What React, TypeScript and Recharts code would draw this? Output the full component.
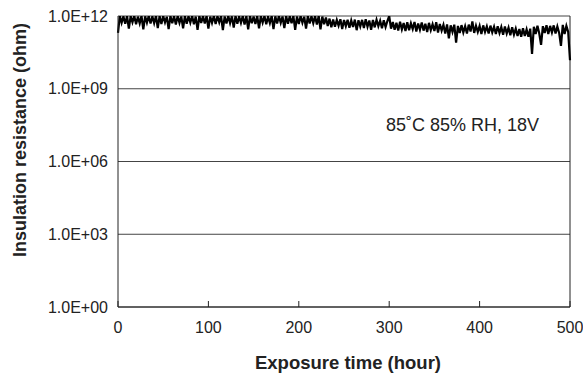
import React from 'react';
import { LineChart, Line, XAxis, YAxis, CartesianGrid, ReferenceLine } from 'recharts';

// readings taken every 2 hours, 0..500 h
const SAMPLE_STEP_HOURS = 2;

const resistanceOhm = [
    2.0e11, 1.0e12, 5.2e11, 9.6e11, 4.8e11, 1.0e12, 3.0e11, 9.8e11, 5.5e11, 1.0e12,
    4.6e11, 9.4e11, 5.0e11, 1.0e12, 2.8e11, 9.7e11, 5.3e11, 1.0e12, 4.9e11, 9.5e11,
    5.1e11, 1.0e12, 3.2e11, 9.9e11, 4.7e11, 1.0e12, 5.4e11, 9.3e11, 2.9e11, 1.0e12,
    5.0e11, 9.8e11, 4.5e11, 1.0e12, 5.2e11, 9.6e11, 3.1e11, 1.0e12, 4.8e11, 9.7e11,
    5.3e11, 1.0e12, 4.6e11, 9.5e11, 2.7e11, 1.0e12, 5.1e11, 9.9e11, 4.9e11, 1.0e12,
    3.0e11, 9.4e11, 5.2e11, 1.0e12, 4.7e11, 9.8e11, 5.5e11, 1.0e12, 2.6e11, 9.6e11,
    4.9e11, 1.0e12, 5.1e11, 9.7e11, 3.3e11, 1.0e12, 4.8e11, 9.5e11, 5.2e11, 1.0e12,
    4.5e11, 9.9e11, 2.8e11, 1.0e12, 5.0e11, 9.6e11, 4.7e11, 1.0e12, 3.1e11, 9.8e11,
    5.3e11, 1.0e12, 4.6e11, 9.4e11, 5.1e11, 1.0e12, 2.9e11, 9.7e11, 4.9e11, 1.0e12,
    5.2e11, 9.5e11, 3.2e11, 1.0e12, 4.8e11, 9.8e11, 5.0e11, 1.0e12, 2.7e11, 9.6e11,
    4.7e11, 1.0e12, 5.3e11, 9.3e11, 3.0e11, 1.0e12, 4.9e11, 9.7e11, 5.1e11, 9.9e11,
    4.4e11, 1.0e12, 2.8e11, 9.5e11, 4.6e11, 8.6e11, 3.9e11, 7.8e11, 3.4e11, 7.2e11,
    3.6e11, 6.9e11, 4.0e11, 7.4e11, 2.9e11, 6.8e11, 3.8e11, 7.0e11, 3.3e11, 6.6e11,
    3.5e11, 7.1e11, 2.6e11, 6.7e11, 3.7e11, 6.9e11, 3.2e11, 7.3e11, 3.6e11, 6.5e11,
    2.7e11, 6.8e11, 3.4e11, 7.0e11, 3.8e11, 6.4e11, 3.1e11, 6.7e11, 3.5e11, 6.2e11,
    1.0e12, 3.0e11, 5.6e11, 2.7e11, 5.3e11, 2.5e11, 5.8e11, 2.8e11, 5.1e11, 2.4e11,
    5.5e11, 2.6e11, 5.0e11, 2.9e11, 5.7e11, 2.3e11, 4.9e11, 2.7e11, 5.4e11, 2.5e11,
    4.8e11, 2.2e11, 5.2e11, 2.6e11, 4.6e11, 2.4e11, 5.5e11, 2.1e11, 4.7e11, 2.5e11,
    4.3e11, 1.9e11, 4.5e11, 1.2e11, 4.1e11, 2.2e11, 4.4e11, 8.0e10, 3.9e11, 2.0e11,
    4.2e11, 2.1e11, 3.8e11, 1.9e11, 4.4e11, 2.3e11, 6.0e11, 2.0e11, 4.0e11, 2.2e11,
    3.9e11, 1.8e11, 4.1e11, 2.2e11, 3.7e11, 1.9e11, 4.0e11, 2.1e11, 3.6e11, 1.8e11,
    3.8e11, 2.0e11, 3.5e11, 1.7e11, 3.7e11, 1.9e11, 3.3e11, 1.6e11, 3.4e11, 1.7e11,
    3.0e11, 1.5e11, 2.9e11, 1.4e11, 3.1e11, 1.5e11, 2.8e11, 1.4e11, 3.0e11, 2.7e10,
    3.6e11, 1.8e11, 4.0e11, 1.9e11, 6.4e10, 3.8e11, 2.0e11, 4.2e11, 1.8e11, 3.9e11,
    2.1e11, 4.1e11, 1.9e11, 3.7e11, 2.0e11, 5.9e10, 4.3e11, 1.8e11, 3.9e11, 2.2e11,
    1.5e10,
];

const xTicks = [0, 100, 200, 300, 400, 500];
const yTicks = [1, 1e3, 1e6, 1e9, 1e12];
const yTickLabels = ['1.0E+00', '1.0E+03', '1.0E+06', '1.0E+09', '1.0E+12'];

const data = resistanceOhm.map((r, i) => ({ hour: i * SAMPLE_STEP_HOURS, resistance: r }));

const FONT = '"Liberation Sans", Arial, Helvetica, sans-serif';
const INK = '#222';

const XTick = (props: any) => {
    const { x, y, payload } = props;
    return (
        <g>
            <line x1={x} x2={x} y1={y} y2={y - 6} stroke={INK} strokeWidth={1} />
            <text x={x} y={y + 20} textAnchor="middle" dominantBaseline="central" fontSize={16} fontFamily={FONT} fill={INK}>
                {payload.value}
            </text>
        </g>
    );
};

const YTick = (props: any) => {
    const { x, y, payload } = props;
    const label = yTickLabels[yTicks.indexOf(payload.value)];
    return (
        <text x={x} y={y} textAnchor="end" dominantBaseline="central" fontSize={16} fontFamily={FONT} fill={INK}>
            {label}
        </text>
    );
};

const App: React.FC = () => {
    return (
        <div style={{ position: 'absolute', left: 0, top: 0, width: 583, height: 374, background: '#fff', fontFamily: FONT }}>
            <LineChart width={583} height={374} data={data} margin={{ top: 16, right: 13, left: 0, bottom: 0 }}>
                <CartesianGrid vertical={false} stroke="#444" strokeWidth={1} />
                <XAxis
                    dataKey="hour"
                    type="number"
                    domain={[0, 500]}
                    ticks={xTicks}
                    height={67}
                    tickLine={false}
                    tickSize={0}
                    tickMargin={0}
                    axisLine={{ stroke: INK }}
                    tick={<XTick />}
                />
                <YAxis
                    type="number"
                    scale="log"
                    domain={[1, 1e12]}
                    allowDataOverflow
                    ticks={yTicks}
                    width={118}
                    tickLine={false}
                    tickSize={0}
                    tickMargin={10}
                    axisLine={{ stroke: INK }}
                    tick={<YTick />}
                />
                <ReferenceLine x={500} stroke={INK} strokeWidth={1} />
                <Line
                    type="linear"
                    dataKey="resistance"
                    stroke="#000"
                    strokeWidth={2.2}
                    strokeLinejoin="miter"
                    dot={false}
                    isAnimationActive={false}
                />
            </LineChart>
            <div
                style={{
                    position: 'absolute', left: 20, top: 140, fontSize: 18, lineHeight: '18px', fontWeight: 'bold',
                    color: INK, whiteSpace: 'nowrap', transform: 'translate(-50%, -50%) rotate(-90deg)',
                }}
            >
                Insulation resistance (ohm)
            </div>
            <div
                style={{
                    position: 'absolute', left: 348, top: 354, fontSize: 18.5, lineHeight: '18.5px', fontWeight: 'bold',
                    color: INK, whiteSpace: 'nowrap', transform: 'translateX(-50%)',
                }}
            >
                Exposure time (hour)
            </div>
            <div style={{ position: 'absolute', left: 386, top: 116, fontSize: 18, lineHeight: '18px', color: INK, whiteSpace: 'nowrap' }}>
                85˚C 85% RH, 18V
            </div>
        </div>
    );
};

export default App;
